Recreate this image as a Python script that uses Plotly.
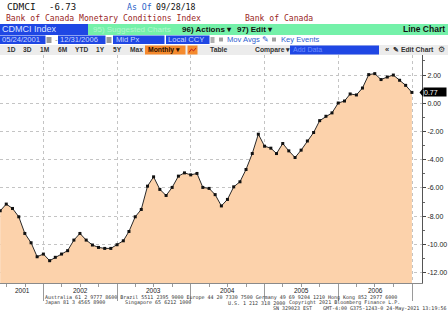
import pandas as pd
import plotly.graph_objects as go

W, H = 448, 322

# Bank of Canada Monetary Conditions Index, monthly, 05/2001 - 12/2006
months = pd.date_range("2001-05-31", "2006-12-31", freq="ME")
mci_2001 = [-7.62, -7.14, -7.45, -8.04, -9.22, -9.88, -10.87, -10.68]
mci_2002 = [-11.15, -10.91, -10.68, -10.44, -9.69, -9.22, -9.69, -10.04, -10.21, -10.28, -10.28, -10.02]
mci_2003 = [-9.74, -9.08, -8.04, -7.52, -5.87, -5.21, -6.10, -6.53, -5.96, -5.16, -4.93, -5.07]
mci_2004 = [-4.97, -5.96, -6.03, -6.47, -7.27, -6.81, -5.92, -5.56, -4.69, -3.56, -2.19, -3.04]
mci_2005 = [-3.18, -3.56, -2.85, -3.37, -3.84, -3.32, -2.67, -2.07, -1.23, -0.92, -0.68, 0.02]
mci_2006 = [0.16, 0.66, 0.59, 1.08, 2.03, 2.10, 1.68, 1.86, 2.00, 1.63, 1.27, 0.77]
mci = mci_2001 + mci_2002 + mci_2003 + mci_2004 + mci_2005 + mci_2006

last_value = mci[-1]
ticker = "CDMCI"
quote = "-6.73"
as_of = "09/28/18"
title = "Bank of Canada Monetary Conditions Index"
source = "Bank of Canada"

y_ticks = [2, 0, -2, -4, -6, -8, -10, -12]
y_ticktext = ["%.2f" % v for v in y_ticks]
year_starts = ["2002-01-01", "2003-01-01", "2004-01-01", "2005-01-01", "2006-01-01", "2007-01-01"]
year_labels = ["2001", "2002", "2003", "2004", "2005", "2006"]
year_label_pos = ["2001-09-16", "2002-07-02", "2003-07-02", "2004-07-02", "2005-07-02", "2006-07-02"]

Y_MIN, Y_MAX = -12.73, 3.42
X_RANGE = ["2001-05-30", "2007-02-19"]

# pixel layout of the chart panel
PL, PR, PT, PB = 0, 422, 55, 283

BLUE = "#1f47e4"
GREEN = "#74f1a9"
ORANGE = "#f48a2e"
FILL = "#fcd2ab"


def px(x):
    return x / W


def py(y):
    return 1 - y / H


shapes = []
annotations = []


def rect(x0, y0, x1, y1, color):
    shapes.append(dict(type="rect", xref="paper", yref="paper",
                       x0=px(x0), x1=px(x1), y0=py(y1), y1=py(y0),
                       fillcolor=color, line=dict(width=0), layer="above"))


def text(x, y, s, size=8, color="#111", anchor="left", family="Liberation Sans", bold=False):
    if bold:
        s = "<b>" + s + "</b>"
    annotations.append(dict(xref="paper", yref="paper", x=px(x), y=py(y), text=s,
                            showarrow=False, xanchor=anchor, yanchor="middle",
                            borderpad=0, font=dict(size=size, color=color, family=family)))


MONO = "DejaVu Sans Mono"

# ---- title rows
text(6, 6.5, ticker, 9.5, "#111", family=MONO)
text(48, 6.5, quote, 9, "#111", family=MONO)
text(126, 6.5, "As Of", 8.2, "#2a62c8", family=MONO)
text(155, 6.5, as_of, 8.2, "#111", family=MONO)
text(5, 17.5, title, 8.1, "#9a1f1f", family=MONO)
text(244, 17.5, source, 8.1, "#9a1f1f", family=MONO)

# ---- command bar
rect(0, 24, 88, 35, BLUE)
rect(88, 24, 448, 35, GREEN)
text(1, 29.5, "CDMCI Index", 9, "#dce4ff")
text(92, 29.5, "95) Suggested Charts", 8, "#b4f7cf")
text(181, 29.5, "96) Actions ▾", 8, "#111", bold=True)
text(236, 29.5, "97) Edit ▾", 8, "#111", bold=True)
text(446, 29.5, "Line Chart", 8.5, "#111", anchor="right", bold=True)

# ---- date / field row
rect(0, 35.5, 45.5, 44, BLUE)
rect(46.5, 37, 51.5, 43, "#9a9a9a")
text(54, 39.7, "-", 8, "#777")
rect(58, 35.5, 105.5, 44, BLUE)
rect(106.5, 37, 111.5, 43, "#9a9a9a")
rect(113, 35.5, 164.5, 44, BLUE)
rect(166, 35.5, 209.5, 44, BLUE)
rect(210.5, 37, 214.5, 43, "#b0b0b0")
text(0.5, 39.8, "05/24/2001", 7.6, "#c9d7ff")
text(58.5, 39.8, "12/31/2006", 7.6, "#c9d7ff")
text(115, 39.8, "Mid Px", 7.6, "#c9d7ff")
text(167, 39.8, "Local CCY", 7.6, "#c9d7ff")
rect(219, 37.5, 223, 41.5, "#a0a0a0")
text(226, 39.8, "Mov Avgs ✎", 7.6, "#2f5fd0")
rect(272, 37.5, 276, 41.5, "#a0a0a0")
text(280, 39.8, "Key Events", 7.6, "#2f5fd0")

# ---- range / toolbar row
rect(0, 45, 448, 55, "#ececec")
for x, s in [(6, "1D"), (22, "3D"), (39, "1M"), (57, "6M"), (74, "YTD"),
             (95, "1Y"), (112, "5Y"), (129, "Max")]:
    text(x, 50, s, 6.6, "#333", bold=True)
rect(145, 45.5, 185.5, 54.5, ORANGE)
text(147, 50, "Monthly ▾", 6.8, "#2a1000", bold=True)
rect(187.5, 45.5, 197.5, 54.5, ORANGE)
shapes.append(dict(type="path", xref="paper", yref="paper", layer="above",
                   path="M %f %f L %f %f L %f %f L %f %f" % (
                       px(189), py(52.5), px(191.5), py(49), px(193.5), py(51), px(196), py(48)),
                   line=dict(color="#c0201a", width=1)))
text(209, 50, "Table", 6.8, "#333", bold=True)
text(254, 50, "Compare ▾", 6.8, "#333", bold=True)
rect(290, 45.5, 379, 54.5, BLUE)
text(292, 50, "Add Data", 7, "#6f8fff")
text(384, 50, "«", 7.5, "#333", bold=True)
text(392, 50, "✎ Edit Chart", 6.8, "#333", bold=True)
text(437, 50, "⚙", 7.5, "#333")

# ---- year labels under the axis
for pos, lab in zip(year_label_pos, year_labels):
    annotations.append(dict(xref="x", yref="paper", x=pos, y=py(290.3), text=lab,
                            showarrow=False, xanchor="center", yanchor="middle",
                            font=dict(size=6.5, color="#222", family="Liberation Sans")))

# ---- footer
FS, FC = 5, "#333"
text(44, 297.3, "Australia 61 2 9777 8600 Brazil 5511 2395 9000 Europe 44 20 7330 7500 "
     "Germany 49 69 9204 1210 Hong Kong 852 2977 6000", FS, FC, family=MONO)
text(44, 302.8, "Japan 81 3 4565 8900", FS, FC, family=MONO)
text(124, 302.8, "Singapore 65 6212 1000", FS, FC, family=MONO)
text(227, 302.8, "U.S. 1 212 318 2000", FS, FC, family=MONO)
text(288, 302.8, "Copyright 2021 Bloomberg Finance L.P.", FS, FC, family=MONO)
text(272, 308.4, "SN 329023 EST", FS, FC, family=MONO)
text(447, 308.4, "GMT-4:00 G375-1243-0 24-May-2021 13:19:56", FS, FC,
     anchor="right", family=MONO)

# ---- last value tag
annotations.append(dict(xref="paper", yref="y", x=px(PR + 0.5), y=last_value,
                        text="%.2f" % last_value, showarrow=False, xanchor="left",
                        yanchor="middle", align="left", width=22, height=8,
                        bgcolor="#000", borderpad=0,
                        font=dict(size=7, color="#fff", family="Liberation Sans")))
shapes.append(dict(type="path", xref="paper", yref="y", layer="above",
                   path="M %f %f L %f %f L %f %f Z" % (
                       px(419.5), last_value, px(PR + 1), last_value + 0.3,
                       px(PR + 1), last_value - 0.3),
                   fillcolor="#000", line=dict(width=0)))

fig = go.Figure()
fig.add_trace(go.Scatter(x=months, y=[Y_MIN] * len(months), mode="lines",
                         line=dict(width=0), hoverinfo="skip", showlegend=False))
fig.add_trace(go.Scatter(x=months, y=mci, mode="lines+markers", fill="tonexty",
                         fillcolor=FILL, line=dict(color="#2a2a2a", width=1),
                         marker=dict(symbol="square", size=3, color="#111"),
                         showlegend=False))

fig.update_layout(
    width=W, height=H,
    margin=dict(l=0, r=0, t=0, b=0),
    paper_bgcolor="#fff", plot_bgcolor="#fff",
    shapes=shapes, annotations=annotations,
    xaxis=dict(
        type="date", domain=[px(PL), px(PR)], range=X_RANGE,
        tickmode="array", tickvals=year_starts, ticktext=[""] * len(year_starts),
        ticks="outside", ticklen=17, tickcolor="#9a9a9a", tickwidth=1,
        showgrid=True, gridcolor="#c4c4c4", griddash="dot", gridwidth=1,
        showline=True, linecolor="#8a8a8a", linewidth=1,
        minor=dict(dtick="M3", tick0="2001-01-01", ticks="outside", ticklen=3,
                   tickcolor="#9a9a9a", showgrid=False),
        zeroline=False, fixedrange=True,
    ),
    yaxis=dict(
        domain=[py(PB), py(PT)], range=[Y_MIN, Y_MAX], side="right",
        tickmode="array", tickvals=y_ticks, ticktext=y_ticktext,
        ticks="outside", ticklen=3, tickcolor="#444",
        tickfont=dict(size=7, color="#222", family="Liberation Sans"),
        showgrid=True, gridcolor="#c4c4c4", griddash="dot", gridwidth=1,
        showline=True, linecolor="#555", linewidth=1,
        minor=dict(dtick=1, tick0=0, ticks="outside", ticklen=2, tickcolor="#666",
                   showgrid=False),
        zeroline=False, fixedrange=True,
    ),
)

fig.write_html("out.html")
